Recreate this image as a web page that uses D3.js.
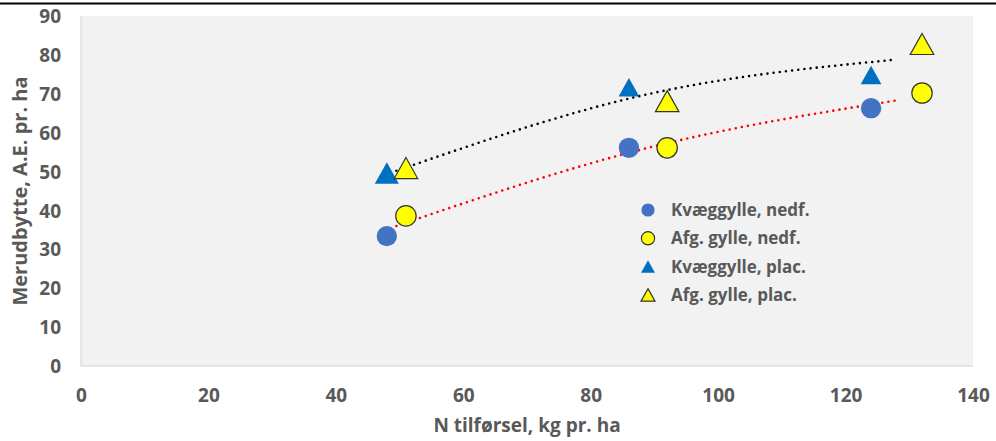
<!DOCTYPE html>
<html>
<head>
<meta charset="utf-8">
<script src="https://cdn.jsdelivr.net/npm/d3@7"></script>
<style>
  body { margin: 0; background: #fff; }
  text { font-family: "Open Sans", "DejaVu Sans", sans-serif; font-weight: 700; fill: #595959; }
</style>
</head>
<body>
<div id="chart"></div>
<script>
// N tilførsel (kg pr. ha) for each series
const xCattle = [48, 86, 124];
const xDigested = [51, 92, 132];

// Merudbytte, A.E. pr. ha
const cattleNedf = [33.4, 56.1, 66.3];
const digestedNedf = [38.6, 56.1, 70.2];
const cattlePlac = [49.6, 71.7, 74.8];
const digestedPlac = [50.9, 68.1, 82.8];

// trend lines (average of the two slurries)
const trendX = [49.5, 89, 128];
const trendPlac = [50.2, 69.9, 78.8];
const trendNedf = [36, 56.1, 68.3];

const xTicks = [0, 20, 40, 60, 80, 100, 120, 140];
const yTicks = [0, 10, 20, 30, 40, 50, 60, 70, 80, 90];

const legendLabels = ['Kvæggylle, nedf.', 'Afg. gylle, nedf.', 'Kvæggylle, plac.', 'Afg. gylle, plac.'];

const width = 996;
const height = 441;
const plot = { left: 81, right: 973, top: 16, bottom: 366 };

const xScale = d3.scaleLinear().domain([0, 140]).range([plot.left, plot.right]);
const yScale = d3.scaleLinear().domain([0, 90]).range([plot.bottom, plot.top]);

const svg = d3.select('#chart')
  .append('svg')
  .attr('width', width)
  .attr('height', height);

// rule under the cut-off page header
svg.append('line')
  .attr('x1', 0).attr('x2', width)
  .attr('y1', 3.5).attr('y2', 3.5)
  .attr('stroke', '#000')
  .attr('stroke-width', 2);

// plot area
svg.append('rect')
  .attr('x', plot.left)
  .attr('y', plot.top)
  .attr('width', plot.right - plot.left)
  .attr('height', plot.bottom - plot.top)
  .attr('fill', '#f2f2f2');

svg.append('line')
  .attr('x1', plot.left).attr('x2', plot.left)
  .attr('y1', plot.top).attr('y2', plot.bottom)
  .attr('stroke', '#d0d0d0');
svg.append('line')
  .attr('x1', plot.left).attr('x2', plot.right)
  .attr('y1', plot.bottom).attr('y2', plot.bottom)
  .attr('stroke', '#d0d0d0');

// axes
const yAxis = svg.append('g')
  .attr('transform', `translate(${plot.left},0)`)
  .call(d3.axisLeft(yScale).tickValues(yTicks).tickSize(0).tickPadding(20));
yAxis.select('.domain').remove();
yAxis.selectAll('text')
  .style('font-size', '19px')
  .attr('dy', '0.35em');

const xAxis = svg.append('g')
  .attr('transform', `translate(0,${plot.bottom})`)
  .call(d3.axisBottom(xScale).tickValues(xTicks).tickSize(0).tickPadding(23));
xAxis.select('.domain').remove();
xAxis.selectAll('text').style('font-size', '19px');

svg.selectAll('.tick text').attr('fill', '#595959');

// axis titles
svg.append('text')
  .attr('transform', 'translate(27,191) rotate(-90)')
  .attr('text-anchor', 'middle')
  .style('font-size', '20px')
  .text('Merudbytte, A.E. pr. ha');

svg.append('text')
  .attr('x', 527)
  .attr('y', 432)
  .attr('text-anchor', 'middle')
  .style('font-size', '19px')
  .text('N tilførsel, kg pr. ha');

// dotted trend lines
const line = d3.line()
  .x((d) => xScale(d[0]))
  .y((d) => yScale(d[1]))
  .curve(d3.curveNatural);

svg.append('path')
  .datum(d3.zip(trendX, trendNedf))
  .attr('d', line)
  .attr('fill', 'none')
  .attr('stroke', '#ff0000')
  .attr('stroke-width', 2.6)
  .attr('stroke-linecap', 'round')
  .attr('stroke-dasharray', '0 6.2');

svg.append('path')
  .datum(d3.zip(trendX, trendPlac))
  .attr('d', line)
  .attr('fill', 'none')
  .attr('stroke', '#000')
  .attr('stroke-width', 2.6)
  .attr('stroke-linecap', 'round')
  .attr('stroke-dasharray', '0 6.2');

// marker shapes
const triangle = (s) => `M0,${-s / 2}L${s * 0.56},${s / 2}L${-s * 0.56},${s / 2}Z`;

const series = [
  { xs: xCattle, ys: cattleNedf, shape: 'circle', fill: '#4472c4', stroke: 'none' },
  { xs: xDigested, ys: digestedNedf, shape: 'circle', fill: '#ffff00', stroke: '#333' },
  { xs: xCattle, ys: cattlePlac, shape: 'triangle', fill: '#0070c0', stroke: 'none' },
  { xs: xDigested, ys: digestedPlac, shape: 'triangle', fill: '#ffff00', stroke: '#333' },
];

function drawMarker(g, s, size) {
  if (s.shape === 'circle') {
    g.append('circle')
      .attr('r', size === 'big' ? 10.2 : 6.6)
      .attr('fill', s.fill)
      .attr('stroke', s.stroke)
      .attr('stroke-width', 1.2);
  } else {
    let side = size === 'big' ? (s.stroke === 'none' ? 18.5 : 21) : 12.5;
    if (size === 'bigger') side = 21.5;
    g.append('path')
      .attr('d', triangle(side))
      .attr('fill', s.fill)
      .attr('stroke', s.stroke)
      .attr('stroke-width', 1.2)
      .attr('stroke-linejoin', 'miter');
  }
}

const points = svg.append('g').attr('class', 'points');
series.forEach((s, si) => {
  d3.zip(s.xs, s.ys).forEach(([x, y], i) => {
    const g = points.append('g').attr('transform', `translate(${xScale(x)},${yScale(y)})`);
    // the first blue triangle is drawn a bit larger in the original
    drawMarker(g, s, si === 2 && i === 0 ? 'bigger' : 'big');
  });
});

// legend
const legend = svg.append('g').attr('transform', 'translate(648,210)');
series.forEach((s, i) => {
  const row = legend.append('g').attr('transform', `translate(0,${i * 28.3})`);
  drawMarker(row, s, 'small');
  row.append('text')
    .attr('x', 23)
    .attr('dy', '0.35em')
    .style('font-size', '17px')
    .text(legendLabels[i]);
});
</script>
</body>
</html>
